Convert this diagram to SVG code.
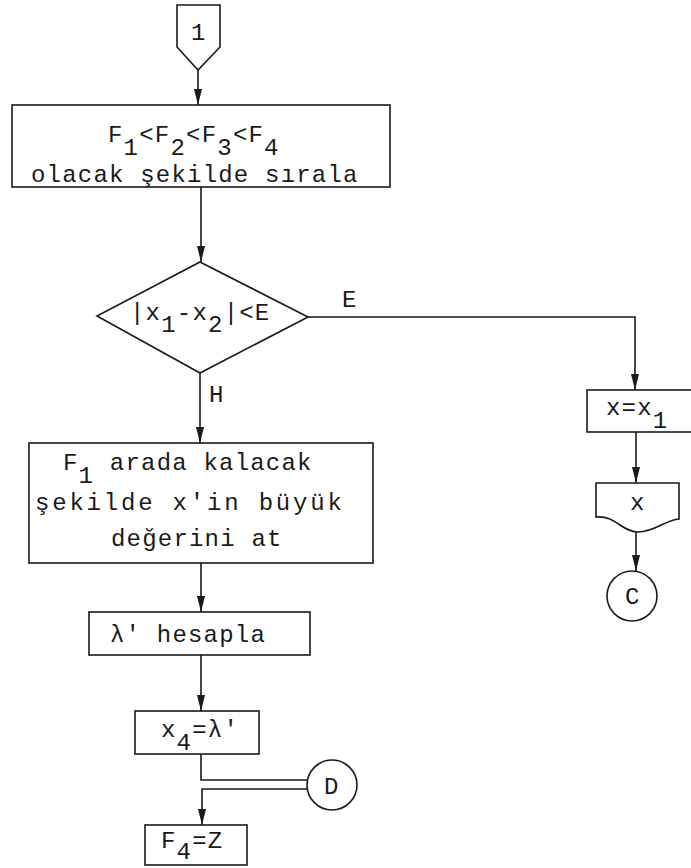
<svg xmlns="http://www.w3.org/2000/svg" width="691" height="868" viewBox="0 0 691 868">
  <style>
    .shape { fill: #ffffff; stroke: #1a1a1a; stroke-width: 1.6; }
    .wire { fill: none; stroke: #1a1a1a; stroke-width: 1.6; }
    .arrow { fill: none; stroke: #1a1a1a; stroke-width: 1.6; marker-end: url(#head); }
    text { font-family: "Liberation Mono", "DejaVu Sans Mono", monospace; font-size: 24px; letter-spacing: 1.2px; fill: #1a1a1a; }
  </style>
  <defs>
    <marker id="head" viewBox="0 0 16 8" refX="16" refY="4" markerWidth="16" markerHeight="8" markerUnits="userSpaceOnUse" orient="auto">
      <path d="M0,0 L16,4 L0,8 Z" fill="#1a1a1a"/>
    </marker>
  </defs>
  <rect width="691" height="868" fill="#ffffff"/>

  <!-- connectors -->
  <g id="connectors">
    <path class="arrow" d="M198,70 V105"/>
    <path class="arrow" d="M201,187 V262"/>
    <path class="arrow" d="M308,317 H635 V390"/>
    <path class="arrow" d="M200,373 V443"/>
    <path class="arrow" d="M201,563 V612"/>
    <path class="arrow" d="M201,655 V711"/>
    <path class="wire" d="M201,754 V780 H307.5"/>
    <path class="arrow" d="M307,789 H202 V825"/>
    <path class="arrow" d="M636,432 V483"/>
    <path class="arrow" d="M636,532 V571"/>
    <text x="342" y="307">E</text>
    <text x="209" y="402">H</text>
  </g>

  <!-- off-page entry 1 -->
  <g id="entry-1">
    <path class="shape" d="M177,5 H220 V47 L198,70 L177,47 Z"/>
    <text x="191" y="40">1</text>
  </g>

  <!-- sort step -->
  <g id="sort">
    <rect class="shape" x="12" y="105" width="378" height="82"/>
    <text x="108" y="142">F<tspan dy="13">1</tspan><tspan dy="-13">&lt;F</tspan><tspan dy="13">2</tspan><tspan dy="-13">&lt;F</tspan><tspan dy="13">3</tspan><tspan dy="-13">&lt;F</tspan><tspan dy="13">4</tspan></text>
    <text x="31" y="182">olacak şekilde sırala</text>
  </g>

  <!-- convergence test -->
  <g id="test">
    <path class="shape" d="M200,262 L308,317 L200,373 L97,316 Z"/>
    <text x="130" y="320">|x<tspan dy="12">1</tspan><tspan dy="-12">-x</tspan><tspan dy="12">2</tspan><tspan dy="-12">|&lt;E</tspan></text>
  </g>

  <!-- narrow interval -->
  <g id="narrow">
    <rect class="shape" x="29" y="443" width="344" height="120"/>
    <text x="63" y="470">F<tspan dy="13">1</tspan><tspan dy="-13"> arada kalacak</tspan></text>
    <text x="35" y="510" style="letter-spacing:2.8px">şekilde x'in büyük</text>
    <text x="111" y="546">değerini at</text>
  </g>

  <!-- lambda step -->
  <g id="lambda">
    <rect class="shape" x="89" y="612" width="221" height="43"/>
    <text x="110" y="642">λ' hesapla</text>
  </g>

  <!-- x4 assignment -->
  <g id="assign-x4">
    <rect class="shape" x="135" y="711" width="124" height="43"/>
    <text x="161" y="737">x<tspan dy="13">4</tspan><tspan dy="-13">=λ'</tspan></text>
  </g>

  <!-- connector D -->
  <g id="conn-d">
    <circle class="shape" cx="332" cy="785" r="25"/>
    <text x="324" y="794">D</text>
  </g>

  <!-- F4 assignment -->
  <g id="assign-f4">
    <rect class="shape" x="145" y="825" width="102" height="40"/>
    <text x="161" y="848">F<tspan dy="11">4</tspan><tspan dy="-11">=Z</tspan></text>
  </g>

  <!-- result assignment -->
  <g id="assign-x">
    <rect class="shape" x="587" y="390" width="120" height="42"/>
    <text x="606" y="415">x=x<tspan dy="13">1</tspan></text>
  </g>

  <!-- output document -->
  <g id="output-x">
    <path class="shape" d="M596,483 H679 V519 C665,520 655,532 638,532 C622,532 615,515 596,517 Z"/>
    <text x="630" y="510">x</text>
  </g>

  <!-- connector C -->
  <g id="conn-c">
    <circle class="shape" cx="632" cy="596" r="25"/>
    <text x="625" y="604">C</text>
  </g>
</svg>
